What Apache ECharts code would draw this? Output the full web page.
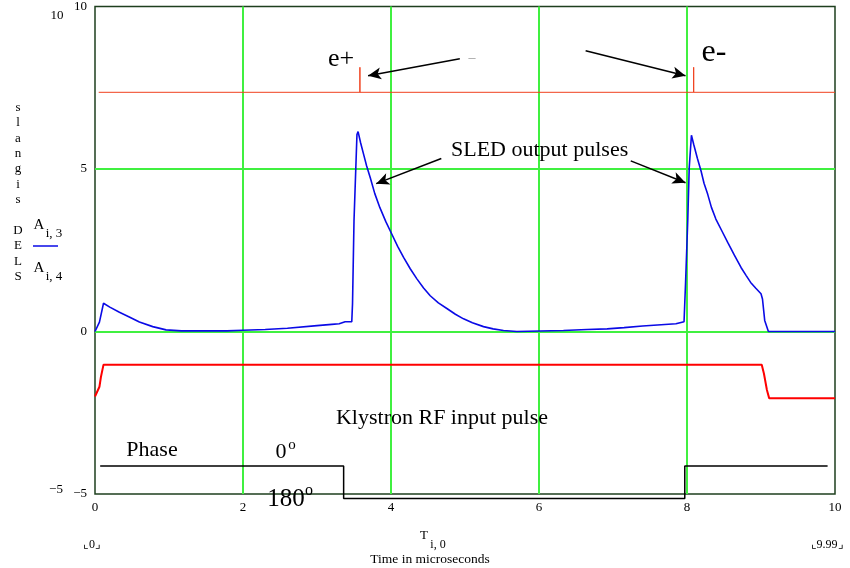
<!DOCTYPE html>
<html>
<head>
<meta charset="utf-8">
<script src="https://cdn.jsdelivr.net/npm/echarts@6/dist/echarts.min.js"></script>
<style>
  html, body { margin: 0; padding: 0; background: #fff; }
  #main { width: 850px; height: 568px; }
</style>
</head>
<body>
<div id="main"></div>
<script>
// SLED output (blue), A_i,3
const sledPulse = [
  [0, 0], [0.02, 0.02], [0.06, 0.29], [0.115, 0.87], [0.2, 0.75], [0.33, 0.59],
  [0.47, 0.44], [0.6, 0.29], [0.78, 0.15], [0.96, 0.05], [1.17, 0.02], [1.78, 0.02],
  [2.0, 0.04], [2.3, 0.06], [2.6, 0.1], [3.0, 0.18], [3.2, 0.22], [3.3, 0.24],
  [3.38, 0.3], [3.47, 0.3],
  [3.48, 0.85], [3.5, 3.4], [3.54, 6.06], [3.555, 6.15], [3.59, 5.8], [3.63, 5.45],
  [3.67, 5.1], [3.72, 4.73], [3.78, 4.25], [3.85, 3.81], [3.93, 3.38], [4.01, 3.0],
  [4.09, 2.62], [4.17, 2.28], [4.26, 1.93], [4.35, 1.62], [4.44, 1.34], [4.53, 1.1],
  [4.64, 0.88], [4.76, 0.7], [4.87, 0.53], [4.98, 0.39], [5.1, 0.27], [5.25, 0.15],
  [5.38, 0.08], [5.52, 0.03], [5.7, 0.0], [6.33, 0.03], [6.65, 0.06],
  [6.92, 0.08], [7.15, 0.12], [7.4, 0.17], [7.6, 0.2], [7.85, 0.24], [7.86, 0.3],
  [7.96, 0.3],
  [7.98, 1.46], [8.01, 3.4], [8.03, 5.04], [8.06, 6.04], [8.09, 5.76], [8.14, 5.33],
  [8.19, 4.94], [8.23, 4.56], [8.28, 4.22], [8.33, 3.82], [8.39, 3.46], [8.47, 3.1],
  [8.55, 2.74], [8.64, 2.35], [8.73, 1.97], [8.8, 1.72], [8.86, 1.51], [8.93, 1.33],
  [9.0, 1.16], [9.02, 1.0], [9.05, 0.34], [9.1, 0.0], [10.0, 0.0]
];
// klystron RF input (red), A_i,4
const klystronPulse = [
  [0, -2.0], [0.06, -1.7], [0.08, -1.4], [0.115, -1.02], [9.01, -1.02],
  [9.04, -1.3], [9.08, -1.8], [9.11, -2.05], [10, -2.05]
];
// beam trigger marks e+ / e-
const beamMarks = [
  [0.05, 7.36], [3.58, 7.36], [3.58, 8.13], [3.58, 7.36],
  [8.09, 7.36], [8.09, 8.13], [8.09, 7.36], [10, 7.36]
];
// phase 0 / 180 deg
const phaseLine = [
  [0.07, -4.14], [3.36, -4.14], [3.36, -5.14], [7.97, -5.14], [7.97, -4.14], [9.9, -4.14]
];
const xTicks = [0, 2, 4, 6, 8, 10];
const yTicks = [-5, 0, 5, 10];
const xGrid = [2, 4, 6, 8];
const yGrid = [0, 5];

const serif = '"Liberation Serif", "DejaVu Serif", serif';
const gridGreen = '#40f040';
const myChart = echarts.init(document.getElementById('main'));

function txt(text, x, y, size, opts) {
  return {
    type: 'text', z: 100,
    style: Object.assign({
      text: text, x: x, y: y, fill: '#000',
      font: size + 'px ' + serif,
      textAlign: 'center', textVerticalAlign: 'middle'
    }, opts || {})
  };
}

function arrow(from, to) {
  return [{ coord: from, symbol: 'none' }, { coord: to, symbol: 'arrow' }];
}

const gridLines = xGrid.map(v => ({ xAxis: v })).concat(yGrid.map(v => ({ yAxis: v })));

const option = {
  animation: false,
  backgroundColor: '#fff',
  grid: {
    left: 95, right: 15, top: 5, bottom: 74,
    show: true, borderColor: '#1e3f1e', borderWidth: 1.5
  },
  xAxis: {
    type: 'value', min: 0, max: 10, interval: 2,
    axisLine: { show: false }, axisTick: { show: false },
    axisLabel: {
      margin: 7, color: '#000', fontFamily: serif, fontSize: 13,
      formatter: v => xTicks.indexOf(v) >= 0 ? String(v) : ''
    },
    splitLine: { show: false }
  },
  yAxis: {
    type: 'value', min: -5, max: 10, interval: 5,
    axisLine: { show: false }, axisTick: { show: false },
    axisLabel: {
      margin: 8, color: '#000', fontFamily: serif, fontSize: 13,
      formatter: v => yTicks.indexOf(v) >= 0 ? String(v).replace('-', '\u2212') : ''
    },
    splitLine: { show: false }
  },
  series: [
    {
      name: 'grid', type: 'line', data: [], symbol: 'none', z: 1,
      markLine: {
        silent: true, symbol: 'none', label: { show: false }, z: 1,
        lineStyle: { color: gridGreen, width: 2, type: 'solid' },
        data: gridLines
      }
    },
    {
      name: 'beam', type: 'line', data: beamMarks, symbol: 'none', z: 3,
      lineStyle: { color: '#f0401e', width: 1 }
    },
    {
      name: 'A_i,3', type: 'line', data: sledPulse, symbol: 'none', z: 3,
      lineStyle: { color: '#0a0ae6', width: 1.6 },
      markLine: {
        silent: true, symbolSize: [9, 13],
        label: { show: false },
        lineStyle: { color: '#000', width: 1.6, type: 'solid' },
        data: [
          arrow([4.93, 8.39], [3.69, 7.87]),
          arrow([6.63, 8.64], [7.98, 7.87]),
          arrow([4.68, 5.32], [3.80, 4.55]),
          arrow([7.24, 5.25], [7.98, 4.58])
        ]
      }
    },
    {
      name: 'A_i,4', type: 'line', data: klystronPulse, symbol: 'none', z: 3,
      lineStyle: { color: '#ff0000', width: 2 }
    },
    {
      name: 'phase', type: 'line', data: phaseLine, symbol: 'none', clip: false, z: 3,
      lineStyle: { color: '#000', width: 1.5 }
    }
  ],
  graphic: [
    txt('e+', 341, 59, 26),
    txt('e-', 714, 53, 32),
    txt('\u2013', 472, 58, 14, { fill: '#999' }),
    txt('SLED output pulses', 451, 150, 22, { textAlign: 'left' }),
    txt('Klystron RF input pulse', 442, 418, 22),
    txt('Phase', 152, 450, 22),
    txt('0', 281, 452, 22),
    txt('o', 292, 445, 15),
    txt('180', 286, 499, 25),
    txt('o', 309, 491, 16),
    // y title, letters stacked
    txt('s\nl\na\nn\ng\ni\ns\n\nD\nE\nL\nS', 18, 192, 13, { lineHeight: 15.4 }),
    txt('A', 39, 225, 15),
    txt('i, 3', 54, 234, 13),
    { type: 'line', z: 100, shape: { x1: 33, y1: 246, x2: 58, y2: 246 }, style: { stroke: '#0a0ae6', lineWidth: 1.5 } },
    txt('A', 39, 268, 15),
    txt('i, 4', 54, 277, 13),
    // outer axis limits
    txt('10', 57, 16, 13),
    txt('\u22125', 56, 490, 13),
    // x axis title block
    txt('\u231e0\u231f', 92, 545, 12),
    txt('\u231e9.99\u231f', 827, 545, 12),
    txt('T', 424, 536, 13),
    txt('i, 0', 438, 545, 12),
    txt('Time in microseconds', 430, 559, 13.5)
  ]
};
myChart.setOption(option);
</script>
</body>
</html>
